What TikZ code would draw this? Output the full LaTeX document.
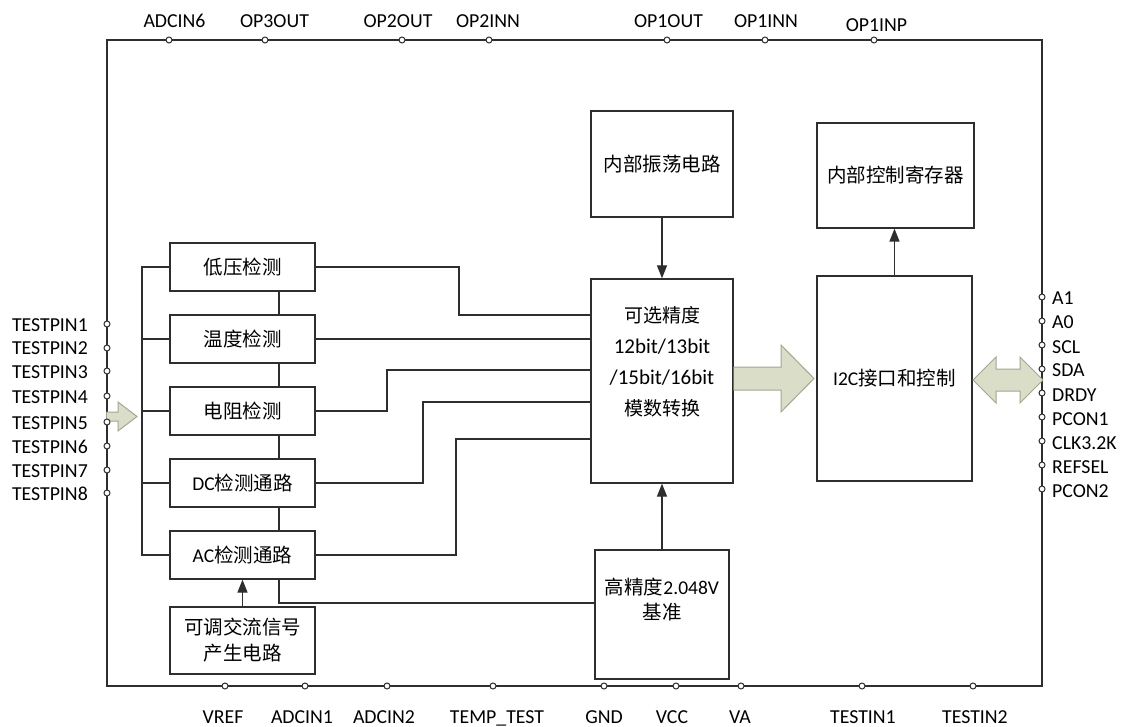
\documentclass[tikz,border=0pt]{standalone}
\usepackage{fontspec}
\setmainfont{Carlito}
\newfontfamily\cjk{Noto Sans CJK SC}
\newfontfamily\lat{Carlito}
\usetikzlibrary{arrows.meta}
\definecolor{lc}{HTML}{2E2E2E}
\definecolor{af}{HTML}{DADDC8}
\definecolor{ad}{HTML}{A3A891}
\begin{document}
\begin{tikzpicture}[x=1pt,y=-1pt,
  ln/.style={draw=lc, line width=1.2pt},
  box/.style={ln, rectangle, inner sep=0pt, align=center, font=\cjk\fontsize{19.5}{26}\selectfont},
  frm/.style={ln, rectangle, inner sep=0pt},
  arr/.style={ln, -{Triangle[length=13pt,width=10pt]}},
  pinc/.style={circle, draw=lc, fill=white, line width=1pt, minimum size=6pt, inner sep=0pt},
  lab/.style={inner sep=0pt, font=\fontsize{19.8}{22}\selectfont},
  txt/.style={inner sep=0pt, align=center},
  bigarr/.style={fill=af, draw=ad, line width=1pt}]
\useasboundingbox (0,0) rectangle (1122,727);
\fill[white] (0,0) rectangle (1122,727);

% frame
\node[frm, minimum width=935pt, minimum height=646pt] (fr) at (574.5,363) {};

% left blocks
\node[box, minimum width=145pt, minimum height=48pt] (dy) at (242.5,267) {低压检测};
\node[box, minimum width=145pt, minimum height=48pt] (wd) at (242.5,339) {温度检测};
\node[box, minimum width=145pt, minimum height=48pt] (dz) at (242.5,411) {电阻检测};
\node[box, minimum width=145pt, minimum height=48pt] (dc) at (242.5,483) {{\lat DC}检测通路};
\node[box, minimum width=145pt, minimum height=48pt] (ac) at (242.5,555) {{\lat AC}检测通路};
\node[box, minimum width=145pt, minimum height=67pt] (kt) at (242.5,640.5) {可调交流信号\\产生电路};

% center blocks
\node[box, minimum width=142pt, minimum height=204pt] (adc) at (662,381) {};
\node[txt, font=\fontsize{21}{31}\selectfont] (adct) at (662,362) {{\cjk\fontsize{19}{31}\selectfont 可选精度}\\
  12bit/13bit\\
  /15bit/16bit\\
  {\cjk\fontsize{19}{31}\selectfont 模数转换}};
\node[box, minimum width=142pt, minimum height=106pt] (osc) at (662,164) {内部振荡电路};
\node[box, minimum width=134pt, minimum height=129pt] (ref) at (662,614.5) {};
\node[txt, font=\cjk\fontsize{19.5}{25}\selectfont] (reft) at (662,600) {高精度{\lat 2.048V}\\基准};

% right blocks
\node[box, minimum width=155pt, minimum height=205pt] (i2c) at (894.5,378.5) {{\lat I2C}接口和控制};
\node[box, minimum width=157pt, minimum height=105pt] (reg) at (895.5,175.5) {内部控制寄存器};

% left bus
\coordinate (bt) at (142,267);
\coordinate (bb) at (142,555);
\draw[ln] (dy.west) -- (bt) -- (bb) -- (ac.west);
\draw[ln] (wd.west) -- (wd.west -| bt);
\draw[ln] (dz.west) -- (dz.west -| bt);
\draw[ln] (dc.west) -- (dc.west -| bt);

% vertical links
\draw[ln] (dy.south -| 279,0) -- (wd.north -| 279,0);
\draw[ln] (wd.south -| 279,0) -- (dz.north -| 279,0);
\draw[ln] (dz.south -| 279,0) -- (dc.north -| 279,0);
\draw[ln] (dc.south -| 279,0) -- (ac.north -| 279,0);
\draw[ln] (ac.south -| 279,0) |- (ref.west |- 0,603);

% to ADC
\draw[ln] (dy.east) -- (dy.east -| 459,0) |- (adc.west |- 0,315);
\draw[ln] (wd.east) -- (adc.west |- wd.east);
\draw[ln] (dz.east) -- (dz.east -| 387,0) |- (adc.west |- 0,370);
\draw[ln] (dc.east) -- (dc.east -| 423,0) |- (adc.west |- 0,402);
\draw[ln] (ac.east) -- (ac.east -| 456,0) |- (adc.west |- 0,439);

% arrows
\draw[arr] (kt.north) -- (ac.south);
\draw[arr] (osc.south) -- (adc.north);
\draw[arr] (ref.north) -- (adc.south);
\draw[arr] (i2c.north) -- (i2c.north |- reg.south);

% big arrows
\draw[bigarr] (adc.east |- 0,367) -- (781,367) -- (781,345) -- (814,378.5) -- (781,412) -- (781,390) -- (adc.east |- 0,390);
\draw[bigarr] (973,380) -- (996,357) -- (996,369) -- (1020,369) -- (1020,357) -- (1043,380) -- (1020,403) -- (1020,391) -- (996,391) -- (996,403) -- cycle;
\draw[bigarr] (fr.west |- 0,412) -- (118,412) -- (118,402) -- (137,416.5) -- (118,431) -- (118,421) -- (fr.west |- 0,421);

% top pins
\foreach \n/\px/\lx/\t/\by in {a/169/174.5/ADCIN6/28, b/265/274.5/OP3OUT/28, c/402/398/OP2OUT/28, d/489/488/OP2INN/28, e/667/668.5/OP1OUT/28, f/765/766/OP1INN/28, g/874/876.5/OP1INP/32}{
  \node[pinc] (tp\n) at (\px,40) {};
  \node[lab, anchor=base] (tl\n) at (\lx,\by) {\t};
}
% bottom pins
\foreach \n/\px/\lx/\t in {a/225/223/VREF, b/305/302/ADCIN1, c/387/384/ADCIN2, d/493/497/TEMP\_TEST, e/604/604/GND, f/676/672/VCC, g/741/740/VA, h/862/863/TESTIN1, i/973/975/TESTIN2}{
  \node[pinc] (bp\n) at (\px,686) {};
  \node[lab, anchor=base] (bl\n) at (\lx,723) {\t};
}
% left pins
\foreach \n/\py in {1/324, 2/348, 3/371, 4/396, 5/422, 6/446, 7/470, 8/493}{
  \node[pinc] (lp\n) at (107,\py) {};
  \node[lab, anchor=base east] (ll\n) at (88,\py+7) {TESTPIN\n};
}
% right pins
\foreach \n/\py/\t in {1/297/A1, 2/321/A0, 3/345/SCL, 4/369/SDA, 5/393/DRDY, 6/417/PCON1, 7/441/CLK3.2K, 8/465/REFSEL, 9/489/PCON2}{
  \node[pinc] (rp\n) at (1042,\py) {};
  \node[lab, anchor=base west] (rl\n) at (1052,\py+8) {\t};
}
\end{tikzpicture}
\end{document}
